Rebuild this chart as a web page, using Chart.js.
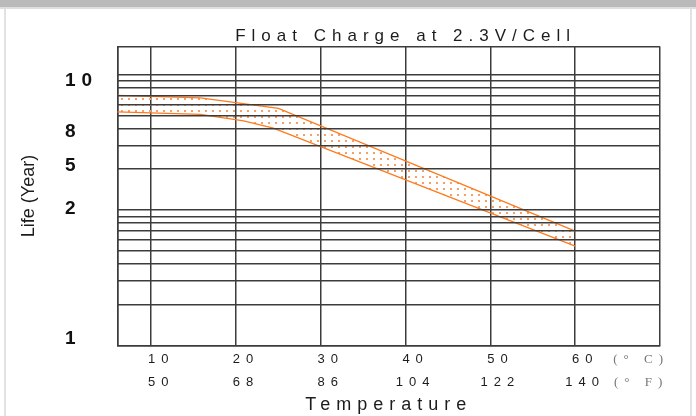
<!DOCTYPE html>
<html>
<head>
<meta charset="utf-8">
<script src="https://cdn.jsdelivr.net/npm/chart.js@4.4.0/dist/chart.umd.min.js"></script>
<style>
    html, body { margin: 0; padding: 0; background: #fff; }
    #wrap { position: relative; width: 696px; height: 416px; overflow: hidden; }
    .edge { position: absolute; pointer-events: none; }
    #topBar { left: 0; top: 0; width: 696px; height: 7px; background: #bababa; border-bottom: 2px solid #dedede; }
    #leftLine { left: 4px; top: 9px; width: 2px; height: 407px; background: #e2e2e2; }
    #rightLine { left: 690px; top: 9px; width: 2px; height: 407px; background: #e2e2e2; }
</style>
</head>
<body>
<div id="wrap">
    <canvas id="lifeChart" width="696" height="416"></canvas>
    <div class="edge" id="topBar"></div>
    <div class="edge" id="leftLine"></div>
    <div class="edge" id="rightLine"></div>
</div>
<script>
// temperature ticks
const tempC = [10, 20, 30, 40, 50, 60];
const tempF = [50, 68, 86, 104, 122, 140];
const unitAt = 66.6;
const unitLabels = ['(° C)', '(° F)'];

// band edges (x = deg C, y = position on the log grid)
const upperTemp = [6, 15.8, 25, 60];
const upperLife = [70, 67.2, 56.2, 7.0];
const lowerTemp = [6, 15.8, 20.9, 24.4, 60];
const lowerLife = [53, 50.7, 45.5, 40.2, 5.43];

// life labels and where they sit on the grid
const yLabels = ['10', '8', '5', '2', '1'];
const yLabelAt = [89.6, 37.8, 21.2, 10.2, 1.117];

const yMin = 1, yMax = 161;
const yGrid = [];
for (let d = 1; d <= 10; d *= 10) {
    for (let k = 1; k <= 9; k++) yGrid.push(k * d);
}
yGrid.push(100, yMax);

const FONT = "'Liberation Sans', Arial, sans-serif";
const ink = '#1c1c1c';
const gridCol = '#3c3c3c';
const orange = '#ff7a1c';

const canvas = document.getElementById('lifeChart');
const ctx = canvas.getContext('2d');

// dotted fill
const pc = document.createElement('canvas');
pc.width = 7;
pc.height = 6;
const pctx = pc.getContext('2d');
pctx.fillStyle = '#f6a068';
pctx.fillRect(2, 2, 2, 2);
const dots = ctx.createPattern(pc, 'repeat');

const spacing = {
    id: 'spacing',
    beforeLayout(chart) { chart.ctx.letterSpacing = '6px'; },
    afterLayout(chart) {
        // title sits a bit right of the plot centre
        if (chart.titleBlock) {
            chart.titleBlock.left += 17;
            chart.titleBlock.right += 17;
        }
    },
    beforeDraw(chart) { chart.ctx.letterSpacing = '6px'; },
    afterDatasetsDraw(chart) { chart.ctx.letterSpacing = '0px'; }
};

new Chart(ctx, {
    type: 'line',
    data: {
        datasets: [{
            data: upperTemp.map((t, i) => ({x: t, y: upperLife[i]})),
            borderColor: orange,
            borderWidth: 1.3,
            pointRadius: 0,
            fill: false
        }, {
            data: lowerTemp.map((t, i) => ({x: t, y: lowerLife[i]})),
            borderColor: orange,
            borderWidth: 1.3,
            pointRadius: 0,
            backgroundColor: dots,
            fill: '-1'
        }]
    },
    options: {
        responsive: false,
        animation: false,
        layout: { padding: { left: 8, right: 36, top: 0, bottom: 0 } },
        plugins: {
            legend: { display: false },
            tooltip: { enabled: false },
            title: {
                display: true,
                fullSize: false,
                text: 'Float Charge at 2.3V/Cell',
                color: ink,
                font: { family: FONT, size: 17, weight: 'normal' },
                padding: { top: 26, bottom: 0 }
            }
        },
        scales: {
            x: {
                type: 'linear',
                min: 6,
                max: 70,
                afterBuildTicks: s => { s.ticks = [6, ...tempC, unitAt, 70].map(v => ({value: v})); },
                afterFit: s => { s.height = 70.3; },
                grid: {
                    color: c => (c.tick && c.tick.value === unitAt) ? 'rgba(0,0,0,0)' : gridCol,
                    lineWidth: 1.5,
                    drawTicks: false
                },
                border: { display: true, color: gridCol, width: 1.5 },
                ticks: {
                    autoSkip: false,
                    maxRotation: 0,
                    padding: 2.5,
                    labelOffset: 10,
                    color: c => (c.tick && c.tick.value === unitAt) ? '#777' : ink,
                    font: c => (c.tick && c.tick.value === unitAt)
                        ? { family: "'Liberation Serif', serif", size: 13, lineHeight: 1.75 }
                        : { family: FONT, size: 13, lineHeight: 1.75 },
                    callback: v => {
                        const i = tempC.indexOf(v);
                        if (i >= 0) return [String(tempC[i]), String(tempF[i])];
                        if (v === unitAt) return unitLabels;
                        return '';
                    }
                },
                title: {
                    display: true,
                    text: 'Temperature',
                    color: ink,
                    font: { family: FONT, size: 18 },
                    padding: { top: 0, bottom: 0 }
                }
            },
            y: {
                type: 'logarithmic',
                position: 'left',
                weight: 2,
                min: yMin,
                max: yMax,
                afterBuildTicks: s => { s.ticks = yGrid.map(v => ({value: v})); },
                afterFit: s => { s.width = 57; },
                ticks: { display: false },
                grid: { color: gridCol, lineWidth: 1.5, drawTicks: false, z: 1 },
                border: { display: false },
                title: {
                    display: true,
                    text: 'Life (Year)',
                    color: ink,
                    font: { family: FONT, size: 18 },
                    padding: { top: 10.5, bottom: 0 }
                }
            },
            yl: {
                type: 'logarithmic',
                position: 'left',
                weight: 1,
                min: yMin,
                max: yMax,
                afterBuildTicks: s => { s.ticks = yLabelAt.map(v => ({value: v})); },
                afterFit: s => { s.width = 52.3; },
                grid: { display: false, drawTicks: false },
                border: { display: true, color: gridCol, width: 1.5 },
                ticks: {
                    crossAlign: 'far',
                    color: '#111',
                    font: { family: FONT, size: 19, weight: 'bold' },
                    callback: (v, i) => yLabels[i]
                }
            }
        }
    },
    plugins: [spacing]
});
</script>
</body>
</html>
